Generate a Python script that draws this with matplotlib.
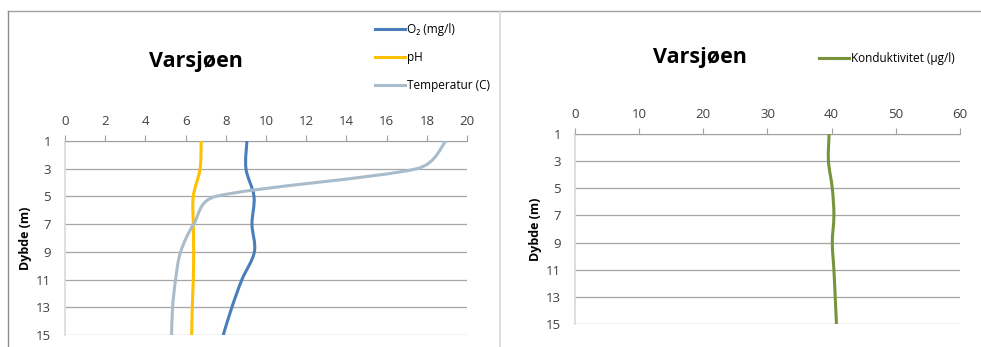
import numpy as np
import matplotlib.pyplot as plt
from matplotlib.path import Path
from matplotlib.patches import PathPatch
from matplotlib.lines import Line2D

plt.rcParams['font.family'] = ['Open Sans', 'DejaVu Sans']

depth = [1, 3, 5, 7, 9, 11, 13, 15]
o2 = [9.05, 9.0, 9.4, 9.3, 9.42, 8.8, 8.3, 7.87]
ph = [6.77, 6.72, 6.38, 6.38, 6.4, 6.38, 6.33, 6.3]
temp = [18.95, 17.5, 7.5, 6.4, 5.75, 5.5, 5.35, 5.3]
kond = [39.6, 39.5, 40.1, 40.35, 40.1, 40.35, 40.55, 40.75]

left_labels = ['O\u2082 (mg/l)', 'pH', 'Temperatur (C)']
right_label = 'Konduktivitet (\u00b5g/l)'
title = 'Varsj\u00f8en'

c_o2 = '#4a7ebb'
c_ph = '#ffc000'
c_temp = '#a9bccb'
c_kond = '#77933c'
grid_c = '#a6a6a6'


# smooth line like excel: bezier curves, control arms worked out in pixels
# and kept shorter than half of the segment so the curve does not overshoot
def smooth_path(ax, xs, ys):
  tr = ax.transData
  pts = tr.transform(np.column_stack([xs, ys]).astype(float))
  n = len(pts)
  verts = [pts[0]]
  codes = [Path.MOVETO]
  for i in range(n - 1):
    p0 = pts[max(i - 1, 0)]
    p1 = pts[i]
    p2 = pts[i + 1]
    p3 = pts[min(i + 2, n - 1)]
    seg = np.hypot(*(p2 - p1))
    t1 = (p2 - p0) / 6.0
    t2 = (p3 - p1) / 6.0
    for t in (t1, t2):
      ln = np.hypot(*t)
      if ln > 0.5 * seg:
        t *= 0.5 * seg / ln
    verts += [p1 + t1, p2 - t2, p2]
    codes += [Path.CURVE4] * 3
  verts = tr.inverted().transform(np.array(verts))
  return Path(verts, codes)


def add_curve(ax, xs, ys, color):
  patch = PathPatch(smooth_path(ax, xs, ys), fill=False, edgecolor=color, lw=2.2,
                    capstyle='butt', joinstyle='round', zorder=3)
  ax.add_patch(patch)


def style_axis(ax, xmax, xstep):
  ax.set_xlim(0, xmax)
  ax.set_ylim(15, 1)
  ax.set_xticks(np.arange(0, xmax + 0.1, xstep))
  ax.set_yticks(depth)
  ax.xaxis.tick_top()
  ax.tick_params(axis='x', direction='out', length=4, color='#a0a0a0',
                 labelsize=9.5, labelcolor='#404040', pad=5)
  ax.tick_params(axis='y', length=0, labelsize=9.5, labelcolor='#404040', pad=10)
  ax.yaxis.grid(True, color=grid_c, lw=0.9)
  ax.set_axisbelow(True)
  for s in ['right', 'bottom']:
    ax.spines[s].set_visible(False)
  ax.spines['top'].set_color('#a0a0a0')
  ax.spines['left'].set_color('#d9d9d9')
  ax.spines['left'].set_linewidth(1.2)
  ax.set_ylabel('Dybde (m)', fontsize=9, fontweight='bold')


fig = plt.figure(figsize=(9.81, 3.47), dpi=100)

ax1 = fig.add_axes([0.0663, 0.0346, 0.4098, 0.5591])
style_axis(ax1, 20, 2)
add_curve(ax1, o2, depth, c_o2)
add_curve(ax1, ph, depth, c_ph)
add_curve(ax1, temp, depth, c_temp)
ax1.yaxis.set_label_coords(-0.082, 0.5)

ax2 = fig.add_axes([0.5861, 0.0663, 0.3925, 0.5476])
style_axis(ax2, 60, 10)
add_curve(ax2, kond, depth, c_kond)
ax2.yaxis.set_label_coords(-0.086, 0.5)

fig.text(196 / 981, 1 - 62 / 347, title, fontsize=15.5, fontweight='bold',
         ha='center', va='center')
fig.text(700 / 981, 1 - 57 / 347, title, fontsize=15.5, fontweight='bold',
         ha='center', va='center')

h1 = [Line2D([], [], color=c, lw=2.2) for c in [c_o2, c_ph, c_temp]]
fig.legend(h1, left_labels, loc='upper left', bbox_to_anchor=(370 / 981, 1 - 18 / 347),
           frameon=False, fontsize=8.5, handlelength=2.6, handletextpad=0.15,
           labelspacing=1.3, borderaxespad=0)
h2 = [Line2D([], [], color=c_kond, lw=2.2)]
fig.legend(h2, [right_label], loc='upper left', bbox_to_anchor=(814 / 981, 1 - 47 / 347),
           frameon=False, fontsize=8.5, handlelength=2.6, handletextpad=0.15,
           borderaxespad=0)

# chart frames
top = 1 - 11 / 347
fig.add_artist(Line2D([8 / 981, 1], [top, top], color='#a0a0a0', lw=1))
fig.add_artist(Line2D([8 / 981, 8 / 981], [0, top], color='#8c8c8c', lw=1))
fig.add_artist(Line2D([500 / 981, 500 / 981], [0, top], color='#d9d9d9', lw=1.2))

fig.savefig('out.png', dpi=100)
